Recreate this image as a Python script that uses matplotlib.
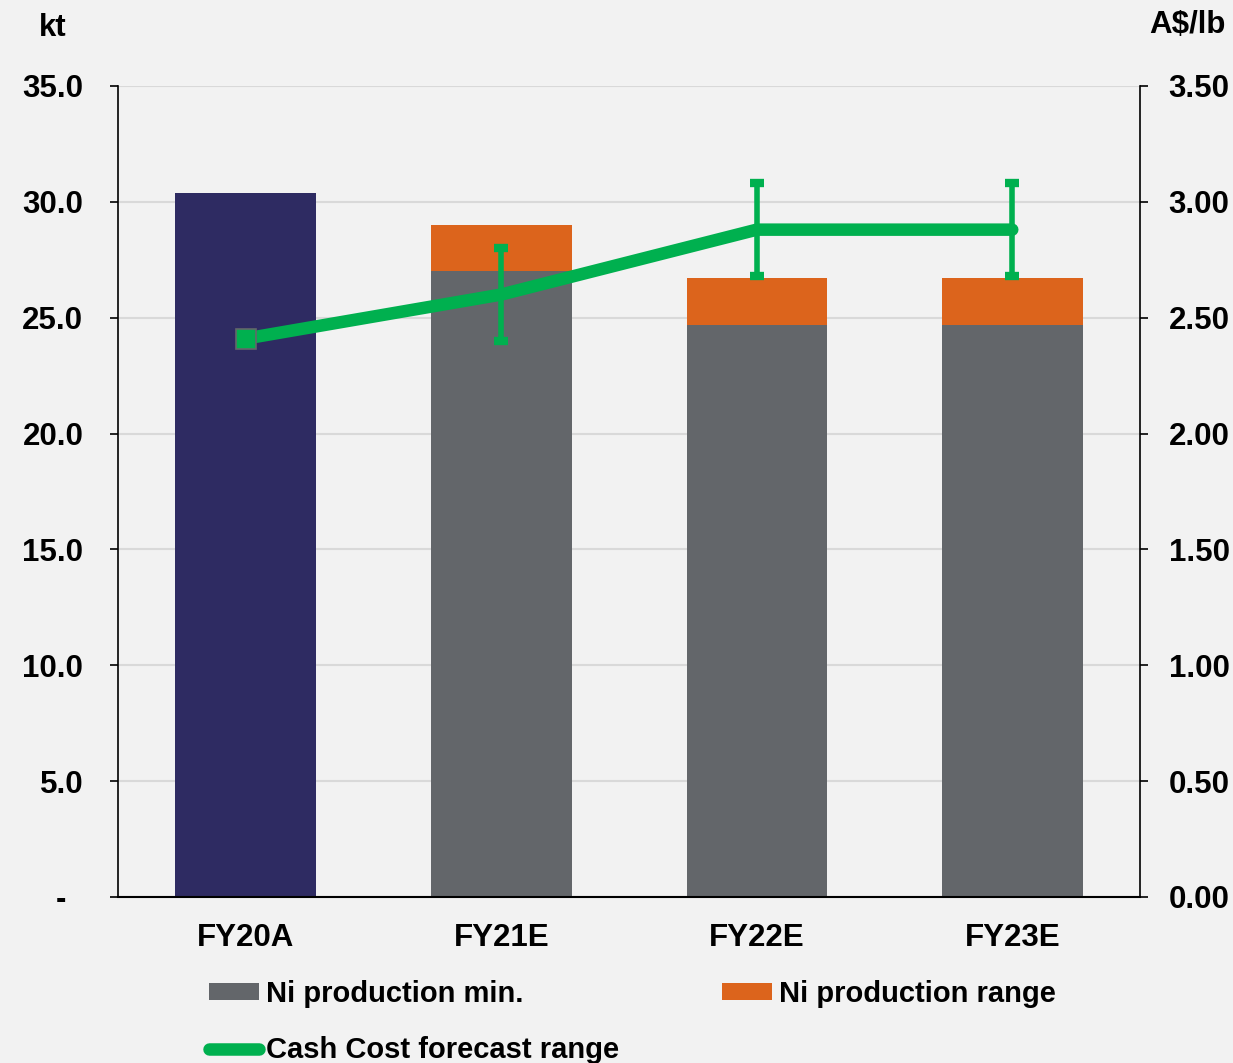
import matplotlib.pyplot as plt
from matplotlib.patches import Patch
from matplotlib.lines import Line2D

# 数据
categories = ["FY20A", "FY21E", "FY22E", "FY23E"]
actual_prod = [30.4, 0, 0, 0]          # kt
prod_min = [0, 27.0, 24.7, 24.7]        # kt
prod_range = [0, 2.0, 2.0, 2.0]         # kt
cash_cost = [2.41, 2.60, 2.88, 2.88]    # A$/lb
cost_err = [0, 0.20, 0.20, 0.20]        # A$/lb

left_ticks = [0, 5, 10, 15, 20, 25, 30, 35]
left_labels = ["-  ", "5.0", "10.0", "15.0", "20.0", "25.0", "30.0", "35.0"]
right_ticks = [0, 0.5, 1.0, 1.5, 2.0, 2.5, 3.0, 3.5]
right_labels = ["0.00", "0.50", "1.00", "1.50", "2.00", "2.50", "3.00", "3.50"]

NAVY = "#2E2B62"
GREY = "#63666A"
ORANGE = "#DC641C"
GREEN = "#00B04F"
BG = "#F2F2F2"

plt.rcParams['font.family'] = ['Liberation Sans', 'DejaVu Sans']
plt.rcParams['font.weight'] = 'bold'

fig = plt.figure(figsize=(12.33, 10.63), dpi=100, facecolor=BG)
ax = fig.add_axes([0.0957, 0.1562, 0.8289, 0.7629])
ax.set_facecolor(BG)

x = list(range(len(categories)))
w = 0.55
ax.bar(x, actual_prod, width=w, color=NAVY, zorder=2)
ax.bar(x, prod_min, width=w, color=GREY, zorder=2)
ax.bar(x, prod_range, width=w, bottom=prod_min, color=ORANGE, zorder=2)

ax.set_xlim(-0.5, 3.5)
ax.set_ylim(0, 35)
ax.set_yticks(left_ticks)
ax.set_yticklabels(left_labels)
ax.set_xticks(x)
ax.set_xticklabels(categories)
ax.grid(axis="y", color="#D9D9D9", linewidth=1.5, zorder=0)
ax.tick_params(axis="y", direction="out", length=6, width=1.2, pad=19, labelsize=22.5)
ax.tick_params(axis="x", length=0, pad=19, labelsize=22.5)
for s in ["top", "right"]:
    ax.spines[s].set_visible(False)
ax.spines["left"].set_linewidth(1.2)
ax.spines["bottom"].set_linewidth(1.5)

ax2 = ax.twinx()
ax2.set_ylim(0, 3.5)
ax2.set_yticks(right_ticks)
ax2.set_yticklabels(right_labels)
ax2.tick_params(axis="y", direction="out", length=6, width=1.2, pad=14.5, labelsize=22.5)
for s in ["top", "left", "bottom"]:
    ax2.spines[s].set_visible(False)
ax2.spines["right"].set_linewidth(1.2)

ax2.plot(x, cash_cost, color=GREEN, linewidth=9, solid_capstyle="round",
         marker="s", markevery=[0], markersize=14, markerfacecolor=GREEN,
         markeredgecolor=GREY, markeredgewidth=1.2, zorder=4)
ax2.errorbar(x[1:], cash_cost[1:], yerr=cost_err[1:], fmt="none", ecolor=GREEN,
             elinewidth=4, capsize=4.7, capthick=6, zorder=3)

fig.text(53 / 1233, 1 - 28 / 1063, "kt", ha="center", va="center", fontsize=22.5, fontweight="bold")
fig.text(1226 / 1233, 1 - 25 / 1063, "A$/lb", ha="right", va="center", fontsize=22.5, fontweight="bold")

handles = [Patch(facecolor=GREY), Line2D([], [], color=GREEN, linewidth=9, solid_capstyle="round"),
           Patch(facecolor=ORANGE)]
labels = ["Ni production min.", "Cash Cost forecast range", "Ni production range"]
fig.legend(handles, labels, ncol=2, loc="upper left", bbox_to_anchor=(209 / 1233, 1 - 980 / 1063),
           frameon=False, fontsize=21, handlelength=1.72, handleheight=0.5, handletextpad=0.25,
           columnspacing=3.5, labelspacing=0.97, borderpad=0, borderaxespad=0)

plt.savefig("out.png", dpi=100, facecolor=BG)
